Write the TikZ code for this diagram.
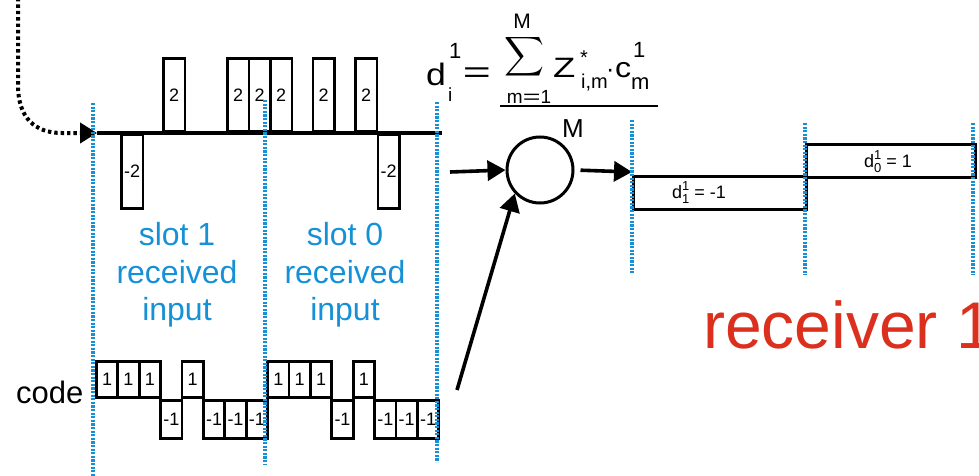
\documentclass[tikz,border=0pt]{standalone}
\usepackage{amsmath}
\usepackage{fontspec}
\usepackage{graphicx}
\setmainfont{Liberation Sans}
\usetikzlibrary{arrows.meta}
\definecolor{sigblue}{RGB}{22,144,214}
\definecolor{recred}{RGB}{220,48,30}
\newcommand{\fs}[1]{\fontsize{#1}{#1}\selectfont}
\newcommand{\weq}{\scalebox{1.6}[1]{=}}
\begin{document}
\begin{tikzpicture}[x=1pt,y=-1pt,
  chipbox/.style={draw=black, line width=2.8pt, inner sep=0pt, font=\fs{18}},
  sigup/.style={chipbox, minimum width=21.5pt, minimum height=73pt, anchor=south west},
  sigdn/.style={chipbox, minimum width=21.5pt, minimum height=74pt, anchor=north west},
  codeup/.style={chipbox, minimum width=21.4pt, minimum height=36pt, anchor=south west},
  codedn/.style={chipbox, minimum width=21.4pt, minimum height=38pt, anchor=north west},
  outbox/.style={draw=black, line width=2.8pt, inner sep=0pt, anchor=north west},
  bluedot/.style={draw=sigblue, line width=3.2pt, dash pattern=on 2.2pt off 1.4pt},
  arrowline/.style={draw=black, line width=3.6pt, -{Triangle[length=18pt,width=20pt]}},
  lbl/.style={inner sep=0pt, anchor=base},
  lblw/.style={inner sep=0pt, anchor=base west},
  bluetxt/.style={lbl, text=sigblue, font=\fs{32}}
]
\useasboundingbox (0,0) rectangle (979,476);

% ---- received signal ----
\coordinate (axisL) at (97,133);
\coordinate (axisR) at (442,133);
\coordinate (src) at (18,-2);
\draw[line width=3.2pt] (axisL) -- (axisR);
\foreach \xl [count=\k] in {162,226,247.5,269,311.5,354}
  \node[sigup] (su\k) at (\xl,133) {2};
\foreach \xl [count=\k] in {120,376.5}
  \node[sigdn] (sd\k) at (\xl,133) {-2};
\draw[line width=4pt, dash pattern=on 3.4pt off 3pt,
      -{Triangle[length=17pt,width=20pt]}]
  (src) -- (18,85) .. controls (18,118) and (35,133) .. (62,133) -- (axisL);

% ---- slot labels ----
\node[bluetxt] (s1a) at (177,245) {slot 1};
\node[bluetxt] (s1b) at (177,283) {received};
\node[bluetxt] (s1c) at (177,320) {input};
\node[bluetxt] (s0a) at (345,245) {slot 0};
\node[bluetxt] (s0b) at (345,283) {received};
\node[bluetxt] (s0c) at (345,320) {input};

% ---- code ----
\node[lblw, font=\fs{31}] (codelbl) at (16,403) {code};
\foreach \v [count=\k from 0] in {1,1,1,-1,1,-1,-1,-1,1,1,1,-1,1,-1,-1,-1}{
  \pgfmathsetmacro\xl{95+21.4*\k}
  \ifnum\v>0
    \node[codeup] (c\k) at (\xl,399) {1};
  \else
    \node[codedn] (c\k) at (\xl,399) {-1};
  \fi
}

% ---- formula ----
\node[lblw, font=\fs{31}] (fd) at (426,86) {\scalebox{1.15}[1]{d}};
\node[lblw, font=\fs{22}] (fd1) at (449,59) {1};
\node[lblw, font=\fs{19}] (fdi) at (448,102) {i};
\node[lbl, font=\fs{30}] (feq) at (477,83) {\weq};
\node[inner sep=0pt] (fsig) at (524,57) {\resizebox*{40pt}{44pt}{$\displaystyle\sum$}};
\node[lbl, font=\fs{21}] (fM) at (522,29) {M};
\node[lbl, font=\fs{19}] (fm1) at (529,103) {m\scalebox{1.6}[1]{=}1};
\node[lblw, font=\fs{28}] (fZ) at (553,78) {\scalebox{1.3}[1]{Z}};
\node[lblw, font=\fs{20}] (fst) at (580,65) {*};
\node[lblw, font=\fs{20}] (fim) at (581,89) {i,m};
\node[lblw, font=\fs{25}] (fdot) at (606,78) {·};
\node[lblw, font=\fs{28}] (fc) at (615,78) {\scalebox{1.15}[1]{c}};
\node[lblw, font=\fs{22}] (fc1) at (633,58) {1};
\node[lblw, font=\fs{22}] (fcm) at (631,90) {m};
\coordinate (fracL) at (500,106);
\coordinate (fracR) at (658,106);
\draw[line width=2.8pt] (fracL) -- (fracR);
\node[lbl, font=\fs{26}] (fden) at (573,137) {M};

% ---- correlator ----
\node[circle, draw, line width=3pt, minimum size=66pt, inner sep=0pt] (circ) at (540,170) {};
\coordinate (inL) at (450,172);
\coordinate (outR) at (632,172);
\coordinate (codeTail) at (457,390);
\draw[arrowline] (inL) -- (circ.west);
\draw[arrowline, shorten <=6pt] (circ.east) -- (outR);
\draw[arrowline] (codeTail) -- (circ.223);

% ---- output ----
\node[outbox, minimum width=173pt, minimum height=33pt] (b1) at (632,175) {};
\node[outbox, minimum width=169pt, minimum height=33pt] (b0) at (805,143) {};
\node[lblw, font=\fs{18}] (t1) at (672,198) {d\rlap{\raisebox{8pt}{\fs{13}1}}\raisebox{-5pt}{\fs{13}1}\hspace{5pt}= -1};
\node[lblw, font=\fs{18}] (t0) at (864,167) {d\rlap{\raisebox{8pt}{\fs{13}1}}\raisebox{-5pt}{\fs{13}0}\hspace{5pt}= 1};

\node[lblw, text=recred, font=\fs{66}] (recv) at (703,348) {receiver 1};

% ---- slot boundaries ----
\coordinate (v1t) at (93,103);  \coordinate (v1b) at (93,476);
\coordinate (v2t) at (265,100); \coordinate (v2b) at (265,464);
\coordinate (v3t) at (437,102); \coordinate (v3b) at (437,462);
\coordinate (v4t) at (632,120); \coordinate (v4b) at (632,273);
\coordinate (v5t) at (805,123); \coordinate (v5b) at (805,275);
\coordinate (v6t) at (973,123); \coordinate (v6b) at (973,275);
\foreach \i in {1,...,6} \draw[bluedot] (v\i t) -- (v\i b);
\end{tikzpicture}
\end{document}
